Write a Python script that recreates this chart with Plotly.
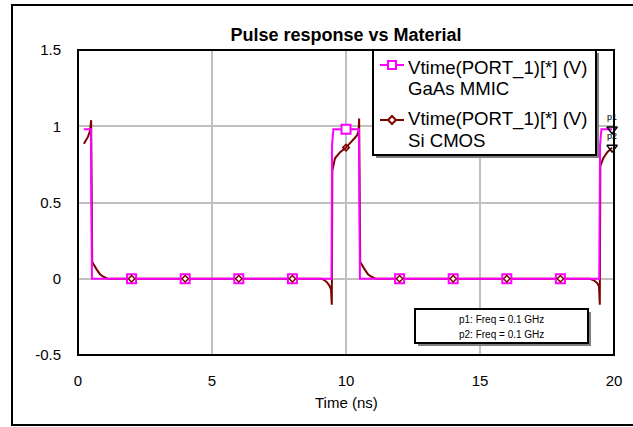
import plotly.graph_objects as go

# ---- data ----
gaas_t = [0.22, 0.48, 0.52, 9.46, 9.48, 9.53, 10.48, 10.52, 19.45, 19.48, 19.53, 19.93]
gaas_v = [0.98, 0.98, 0.0, 0.0, 0.88, 0.98, 0.98, 0.0, 0.0, 0.88, 0.98, 0.98]

si_t = [0.22, 0.30, 0.37, 0.45, 0.49, 0.53, 0.56, 0.63, 0.70, 0.82, 0.93, 1.10,
        9.10, 9.20, 9.30, 9.38, 9.44, 9.47, 9.49, 9.59, 9.78, 10.0, 10.22, 10.41, 10.47, 10.49,
        10.53, 10.56, 10.63, 10.70, 10.82, 10.93, 11.10,
        19.10, 19.25, 19.38, 19.44, 19.47, 19.49, 19.60, 19.75, 19.93]
si_v = [0.885, 0.91, 0.93, 0.97, 1.04, 0.11, 0.10, 0.08, 0.06, 0.03, 0.015, 0.0,
        0.0, -0.01, -0.025, -0.045, -0.07, -0.17, 0.71, 0.79, 0.83, 0.86, 0.90, 0.94, 0.97, 1.05,
        0.11, 0.10, 0.08, 0.06, 0.03, 0.015, 0.0,
        0.0, -0.01, -0.03, -0.05, -0.17, 0.74, 0.79, 0.83, 0.86]

marker_t = [2, 4, 6, 8, 10, 12, 14, 16, 18]
gaas_marker_v = [0, 0, 0, 0, 0.98, 0, 0, 0, 0]
si_marker_v = [0, 0, 0, 0, 0.86, 0, 0, 0, 0]

probe_t = [19.93, 19.93]
probe_v = [0.98, 0.86]
probe_labels = ["p1", "p2"]

x_ticks = [0, 5, 10, 15, 20]
y_ticks = [-0.5, 0, 0.5, 1, 1.5]
y_ticktext = ["-0.5", "0", "0.5", "1", "1.5"]

series_label = "Vtime(PORT_1)[*] (V)"
series_names = ["GaAs MMIC", "Si CMOS"]
note_lines = ["p1: Freq = 0.1 GHz", "p2: Freq = 0.1 GHz"]

MAG = "#ff00ff"
DRED = "#800000"
FONT = "Liberation Sans, Arial, sans-serif"

fig = go.Figure()
fig.add_trace(go.Scatter(x=si_t, y=si_v, mode="lines", line=dict(color=DRED, width=2),
                         showlegend=False, hoverinfo="skip"))
fig.add_trace(go.Scatter(x=gaas_t, y=gaas_v, mode="lines", line=dict(color=MAG, width=2),
                         showlegend=False, hoverinfo="skip"))
fig.add_trace(go.Scatter(x=marker_t, y=gaas_marker_v, mode="markers",
                         marker=dict(symbol="square", size=9, color="white",
                                     line=dict(color=MAG, width=2)),
                         showlegend=False, hoverinfo="skip"))
fig.add_trace(go.Scatter(x=marker_t, y=si_marker_v, mode="markers",
                         marker=dict(symbol="diamond-open", size=5, color=DRED,
                                     line=dict(color=DRED, width=1.5)),
                         showlegend=False, hoverinfo="skip"))
fig.add_trace(go.Scatter(x=probe_t, y=probe_v, mode="markers+text", text=probe_labels,
                         textposition="top center", textfont=dict(size=9, color="black", family=FONT),
                         marker=dict(symbol="triangle-down-open", size=9, color="black",
                                     line=dict(color="black", width=1.5)),
                         cliponaxis=False, showlegend=False, hoverinfo="skip"))

W, H = 633, 427
L, R, T, B = 78, 19, 50, 72
pw, ph = W - L - R, H - T - B

def px(x):
    return (x - L) / pw

def py(y):
    return (H - B - y) / ph

def rect(x0, y0, x1, y1, line_color=None, lw=0, fill="rgba(0,0,0,0)", layer="above"):
    return dict(type="rect", xref="paper", yref="paper", x0=px(x0), x1=px(x1), y0=py(y1), y1=py(y0),
                line=dict(color=line_color or "rgba(0,0,0,0)", width=lw), fillcolor=fill, layer=layer)

def seg(x0, y0, x1, y1, color, lw=2):
    return dict(type="line", xref="paper", yref="paper", x0=px(x0), x1=px(x1), y0=py(y0), y1=py(y1),
                line=dict(color=color, width=lw), layer="above")

def diamond(cx, cy, r, color):
    pts = [(cx, cy - r), (cx + r, cy), (cx, cy + r), (cx - r, cy)]
    d = "M " + " L ".join(f"{px(a)},{py(b)}" for a, b in pts) + " Z"
    return dict(type="path", xref="paper", yref="paper", path=d,
                line=dict(color=color, width=2), fillcolor="white", layer="above")

shapes = [
    rect(12, 5, 645, 425, "black", 2, layer="below"),          # outer frame
    rect(L, T, W - R, H - B, "black", 2),                      # plot border
    rect(376, 53, 599, 158, fill="#808080"),                   # legend shadow
    rect(373, 50, 596, 155, "black", 2, fill="white"),         # legend box
    seg(380, 65, 404, 65, MAG),
    rect(388, 61, 396, 69, MAG, 2, fill="white"),
    seg(380, 120, 404, 120, DRED),
    diamond(392, 120, 4, DRED),
    rect(418, 312, 591, 346, fill="#808080"),                  # note shadow
    rect(415, 309, 588, 343, "black", 2, fill="white"),        # note box
]

annotations = [
    dict(text="Time (ns)", xref="paper", yref="paper", x=0.5, y=py(402), showarrow=False,
         xanchor="center", yanchor="middle", font=dict(size=15)),
]
leg_rows = [(series_label, 68), (series_names[0], 89), (series_label, 119), (series_names[1], 140)]
for txt, yy in leg_rows:
    annotations.append(dict(text=txt, xref="paper", yref="paper", x=px(406), y=py(yy),
                            showarrow=False, xanchor="left", yanchor="middle",
                            font=dict(size=18.6, family=FONT, color="black")))
for txt, yy in zip(note_lines, [319, 334]):
    annotations.append(dict(text=txt, xref="paper", yref="paper", x=px(501), y=py(yy),
                            showarrow=False, xanchor="center", yanchor="middle",
                            font=dict(size=10, family=FONT, color="black")))

fig.update_layout(
    width=W, height=H,
    margin=dict(l=L, r=R, t=T, b=B),
    paper_bgcolor="white", plot_bgcolor="white",
    font=dict(family=FONT, size=15, color="black"),
    showlegend=False,
    title=dict(text="<b>Pulse response vs Material</b>", x=px(346), xref="paper",
               y=1 - 35 / H, yref="container", xanchor="center", yanchor="middle",
               font=dict(size=18, family=FONT, color="black")),
    xaxis=dict(range=[0, 20], tickvals=x_ticks, showgrid=True, gridcolor="#c0c0c0", gridwidth=2,
               zeroline=False, showline=False, ticks="", ticklabelstandoff=15,
               tickfont=dict(size=15)),
    yaxis=dict(range=[-0.5, 1.5], tickvals=y_ticks, ticktext=y_ticktext, showgrid=True,
               gridcolor="#c0c0c0", gridwidth=2, zeroline=False, showline=False, ticks="",
               ticklabelstandoff=16, tickfont=dict(size=15)),
    shapes=shapes,
    annotations=annotations,
)

fig.write_html("out.html")
